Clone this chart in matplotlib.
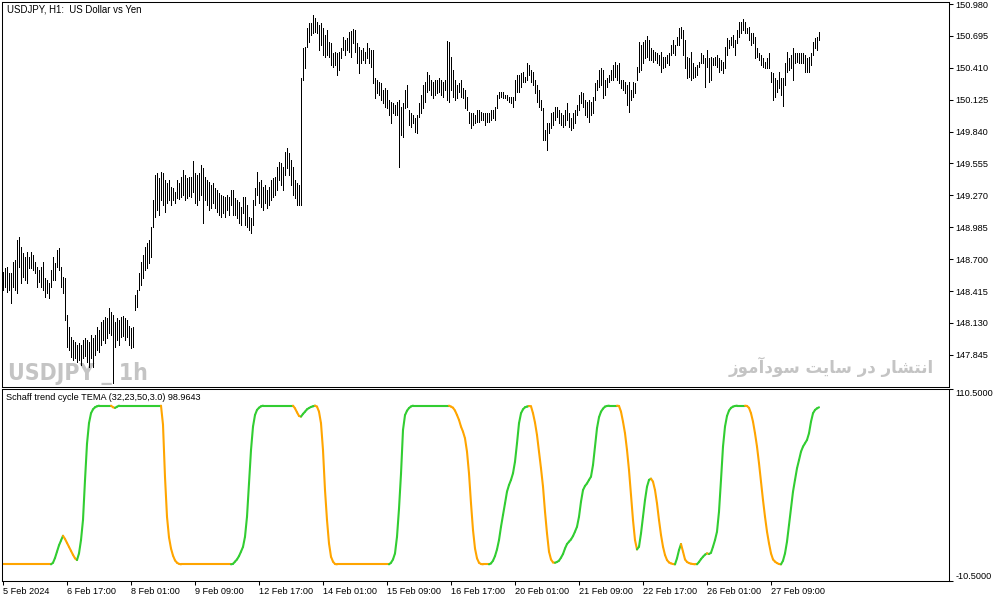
import matplotlib
matplotlib.use('Agg')
import matplotlib.pyplot as plt
from matplotlib.collections import LineCollection
from matplotlib import font_manager as fm
import numpy as np

# ---------------- data ----------------
symbol_title = 'USDJPY, H1:  US Dollar vs Yen'
indicator_name = 'Schaff trend cycle TEMA (32,23,50,3.0)'
watermark_en = 'USDJPY _ 1h'
watermark_fa = 'انتشار در سایت سودآموز'   # logical order
# same Persian text in Arabic presentation forms, visual order (matplotlib has no shaping)
watermark_fa_display = ('\uFEAF\uFEEE\uFEE3\uFE81\uFEA9\uFEEE\uFEB3 '
                        '\uFE96\uFBFE\uFE8E\uFEB3 '
                        '\uFEAD\uFEA9 '
                        '\uFEAD\uFE8E\uFEB8\uFE98\uFEE7\uFE8D')

high = [
    148.586, 148.621, 148.630, 148.577, 148.577, 148.675, 148.693, 148.872, 148.898, 148.809,  # 0
    148.755, 148.720, 148.764, 148.720, 148.764, 148.737, 148.675, 148.630, 148.604, 148.630,  # 10
    148.675, 148.532, 148.514, 148.487, 148.604, 148.720, 148.666, 148.782, 148.800, 148.630,  # 20
    148.541, 148.532, 148.201, 148.094, 148.005, 147.978, 147.960, 147.933, 147.951, 147.933,  # 30
    147.978, 147.996, 147.978, 147.960, 148.023, 147.996, 148.023, 148.094, 148.067, 148.139,  # 40
    148.157, 148.184, 148.175, 148.264, 148.228, 148.201, 148.139, 148.175, 148.157, 148.184,  # 50
    148.192, 148.175, 148.157, 148.103, 148.085, 148.094, 148.380, 148.425, 148.577, 148.675,  # 60
    148.737, 148.809, 148.845, 148.872, 148.988, 149.229, 149.452, 149.470, 149.425, 149.479,  # 70
    149.470, 149.408, 149.381, 149.408, 149.345, 149.336, 149.300, 149.408, 149.381, 149.434,  # 80
    149.497, 149.452, 149.425, 149.434, 149.434, 149.577, 149.470, 149.452, 149.470, 149.542,  # 90
    149.515, 149.434, 149.408, 149.390, 149.363, 149.381, 149.336, 149.318, 149.291, 149.274,  # 100
    149.265, 149.256, 149.274, 149.256, 149.318, 149.318, 149.247, 149.229, 149.211, 149.166,  # 110
    149.256, 149.256, 149.184, 149.077, 149.068, 149.229, 149.336, 149.479, 149.390, 149.408,  # 120
    149.345, 149.363, 149.318, 149.345, 149.408, 149.425, 149.434, 149.524, 149.568, 149.559,  # 130
    149.524, 149.658, 149.693, 149.649, 149.586, 149.524, 149.408, 149.381, 149.363, 150.319,  # 140
    150.587, 150.596, 150.766, 150.810, 150.810, 150.882, 150.855, 150.819, 150.792, 150.810,  # 150
    150.766, 150.703, 150.748, 150.640, 150.632, 150.542, 150.551, 150.542, 150.551, 150.587,  # 160
    150.685, 150.658, 150.676, 150.730, 150.739, 150.757, 150.748, 150.632, 150.596, 150.569,  # 170
    150.587, 150.551, 150.632, 150.587, 150.569, 150.569, 150.319, 150.301, 150.283, 150.274,  # 180
    150.212, 150.230, 150.212, 150.122, 150.104, 150.096, 150.078, 150.104, 150.122, 150.060,  # 190
    150.096, 150.212, 150.256, 150.033, 150.006, 149.988, 149.961, 149.988, 150.096, 150.167,  # 200
    150.256, 150.283, 150.372, 150.346, 150.301, 150.283, 150.301, 150.301, 150.319, 150.301,  # 210
    150.283, 150.301, 150.649, 150.640, 150.506, 150.390, 150.301, 150.256, 150.274, 150.301,  # 220
    150.230, 150.212, 150.149, 150.015, 150.006, 150.006, 149.988, 150.033, 150.033, 150.015,  # 230
    150.006, 150.006, 150.006, 150.006, 150.033, 150.033, 150.060, 150.167, 150.194, 150.194,  # 240
    150.194, 150.167, 150.167, 150.149, 150.149, 150.149, 150.301, 150.346, 150.346, 150.364,  # 250
    150.372, 150.328, 150.453, 150.435, 150.390, 150.372, 150.301, 150.256, 150.212, 150.122,  # 260
    150.051, 149.854, 149.917, 149.917, 150.006, 150.015, 150.060, 150.060, 150.033, 150.006,  # 270
    149.988, 150.033, 150.096, 150.006, 149.961, 150.006, 150.033, 150.078, 150.167, 150.194,  # 280
    150.185, 150.122, 150.104, 150.122, 150.104, 150.149, 150.274, 150.301, 150.390, 150.408,  # 290
    150.390, 150.301, 150.319, 150.346, 150.390, 150.435, 150.462, 150.435, 150.453, 150.301,  # 300
    150.301, 150.283, 150.256, 150.283, 150.212, 150.283, 150.274, 150.417, 150.640, 150.614,  # 310
    150.640, 150.658, 150.694, 150.658, 150.587, 150.569, 150.551, 150.542, 150.524, 150.551,  # 320
    150.506, 150.506, 150.524, 150.542, 150.614, 150.658, 150.614, 150.685, 150.766, 150.774,  # 330
    150.748, 150.658, 150.506, 150.498, 150.551, 150.453, 150.417, 150.435, 150.462, 150.542,  # 340
    150.524, 150.498, 150.569, 150.498, 150.506, 150.498, 150.506, 150.524, 150.498, 150.480,  # 350
    150.462, 150.596, 150.676, 150.658, 150.685, 150.703, 150.658, 150.748, 150.819, 150.819,  # 360
    150.846, 150.819, 150.766, 150.774, 150.721, 150.721, 150.685, 150.587, 150.542, 150.524,  # 370
    150.498, 150.462, 150.498, 150.542, 150.372, 150.364, 150.319, 150.301, 150.372, 150.319,  # 380
    150.319, 150.453, 150.551, 150.498, 150.524, 150.587, 150.542, 150.542, 150.542, 150.542,  # 390
    150.542, 150.524, 150.498, 150.506, 150.542, 150.640, 150.676, 150.685, 150.730,           # 400
]

low = [
    148.425, 148.452, 148.407, 148.425, 148.309, 148.452, 148.425, 148.398, 148.630, 148.487,  # 0
    148.541, 148.514, 148.487, 148.621, 148.621, 148.604, 148.577, 148.452, 148.496, 148.452,  # 10
    148.425, 148.362, 148.398, 148.353, 148.452, 148.514, 148.514, 148.630, 148.604, 148.452,  # 20
    148.398, 148.157, 147.916, 147.889, 147.826, 147.799, 147.817, 147.781, 147.799, 147.755,  # 30
    147.817, 147.835, 147.781, 147.737, 147.817, 147.737, 147.844, 147.889, 147.871, 147.933,  # 40
    147.978, 147.951, 147.996, 148.041, 148.023, 147.594, 147.916, 147.978, 147.933, 148.005,  # 50
    148.014, 147.978, 148.005, 147.933, 147.907, 147.916, 148.246, 148.273, 148.425, 148.470,  # 60
    148.532, 148.604, 148.621, 148.666, 148.720, 148.988, 149.077, 149.140, 149.095, 149.229,  # 70
    149.184, 149.122, 149.202, 149.229, 149.184, 149.229, 149.202, 149.247, 149.238, 149.256,  # 80
    149.274, 149.229, 149.247, 149.265, 149.256, 149.300, 149.202, 149.184, 149.229, 149.274,  # 90
    149.023, 149.229, 149.184, 149.140, 149.157, 149.202, 149.157, 149.122, 149.095, 149.077,  # 100
    149.113, 149.077, 149.140, 149.095, 149.184, 149.095, 149.095, 149.068, 149.023, 149.006,  # 110
    149.113, 149.006, 148.988, 148.961, 148.934, 149.006, 149.184, 149.274, 149.202, 149.166,  # 120
    149.140, 149.202, 149.157, 149.184, 149.229, 149.256, 149.274, 149.318, 149.408, 149.363,  # 130
    149.318, 149.452, 149.515, 149.452, 149.363, 149.274, 149.247, 149.184, 149.184, 149.184,  # 140
    150.301, 150.408, 150.596, 150.640, 150.703, 150.721, 150.730, 150.721, 150.569, 150.614,  # 150
    150.524, 150.506, 150.524, 150.506, 150.435, 150.417, 150.435, 150.346, 150.390, 150.498,  # 160
    150.569, 150.524, 150.569, 150.551, 150.506, 150.632, 150.551, 150.453, 150.364, 150.453,  # 170
    150.480, 150.453, 150.498, 150.453, 150.417, 150.274, 150.140, 150.185, 150.167, 150.122,  # 180
    150.096, 150.060, 150.051, 149.988, 149.917, 150.006, 149.988, 149.988, 149.524, 149.810,  # 190
    149.792, 150.051, 150.060, 149.899, 149.881, 149.917, 149.836, 149.828, 149.970, 150.006,  # 200
    150.051, 150.104, 150.194, 150.212, 150.167, 150.140, 150.167, 150.185, 150.194, 150.167,  # 210
    150.149, 150.212, 150.122, 150.104, 150.212, 150.149, 150.122, 150.140, 150.194, 150.149,  # 220
    150.140, 150.051, 150.033, 149.917, 149.872, 149.899, 149.917, 149.926, 149.926, 149.944,  # 230
    149.944, 149.899, 149.926, 149.926, 149.944, 149.961, 149.944, 150.051, 150.140, 150.149,  # 240
    150.140, 150.140, 150.122, 150.104, 150.096, 150.060, 150.122, 150.194, 150.194, 150.238,  # 250
    150.283, 150.283, 150.301, 150.346, 150.283, 150.256, 150.185, 150.104, 150.060, 150.033,  # 260
    149.765, 149.765, 149.676, 149.828, 149.872, 149.899, 149.944, 149.970, 149.917, 149.899,  # 270
    149.881, 149.899, 149.944, 149.881, 149.854, 149.872, 149.917, 149.988, 150.033, 150.096,  # 280
    150.060, 149.988, 149.970, 149.926, 149.988, 150.006, 150.122, 150.212, 150.238, 150.256,  # 290
    150.140, 150.167, 150.238, 150.283, 150.301, 150.301, 150.328, 150.301, 150.274, 150.230,  # 300
    150.212, 150.185, 150.078, 150.015, 150.122, 150.149, 150.185, 150.301, 150.372, 150.390,  # 310
    150.453, 150.498, 150.506, 150.480, 150.480, 150.462, 150.480, 150.453, 150.435, 150.372,  # 320
    150.408, 150.417, 150.453, 150.435, 150.524, 150.542, 150.524, 150.614, 150.614, 150.676,  # 330
    150.524, 150.408, 150.319, 150.328, 150.301, 150.319, 150.328, 150.346, 150.417, 150.453,  # 340
    150.453, 150.238, 150.417, 150.283, 150.301, 150.435, 150.435, 150.417, 150.372, 150.390,  # 350
    150.364, 150.408, 150.524, 150.587, 150.614, 150.596, 150.524, 150.632, 150.685, 150.721,  # 360
    150.748, 150.721, 150.721, 150.658, 150.614, 150.632, 150.498, 150.506, 150.480, 150.435,  # 370
    150.417, 150.408, 150.408, 150.408, 150.283, 150.122, 150.149, 150.194, 150.230, 150.167,  # 380
    150.069, 150.256, 150.372, 150.390, 150.408, 150.301, 150.453, 150.462, 150.453, 150.453,  # 390
    150.453, 150.372, 150.372, 150.372, 150.435, 150.524, 150.587, 150.569, 150.658,           # 400
]

stc = [
    0, 0, 0, 0, 0, 0, 0, 0, 0, 0,                                   # 0
    0, 0, 0, 0, 0, 0, 0, 0, 0, 0,                                   # 10
    0, 0, 0, 0, 0, 1, 4, 8, 12, 15,                                 # 20
    18, 16, 13.5, 11, 8.5, 6, 3.8, 2.7, 6.9, 15.3,                  # 30
    28, 53, 76, 89, 95.2, 97.7, 99, 99.6, 100, 100,                 # 40
    100, 100, 100, 100, 100, 99.0, 98.6, 99.3, 100, 100,            # 50
    100, 100, 100, 100, 100, 100, 100, 100, 100, 100,               # 60
    100, 100, 100, 100, 100, 100, 100, 100, 100, 100,               # 70
    88, 55, 30, 17, 10, 5.5, 2.5, 1, 0.3, 0,                        # 80
    0, 0, 0, 0, 0, 0, 0, 0, 0, 0,                                   # 90
    0, 0, 0, 0, 0, 0, 0, 0, 0, 0,                                   # 100
    0, 0, 0, 0, 0, 0.3, 1.7, 3.1, 5.2, 8,                           # 110
    11, 17.4, 30, 51, 72, 86.8, 94.1, 97.3, 98.7, 99.6,             # 120
    100, 100, 100, 100, 100, 100, 100, 100, 100, 100,               # 130
    100, 100, 100, 100, 100, 100, 98.3, 95.8, 93.5, 93.1,           # 140
    94.8, 96.2, 97.7, 98.5, 99.2, 99.6, 100, 99.4, 96.2, 88.9,      # 150
    72, 46.8, 27.9, 13.2, 4.8, 1.7, 0.2, 0, 0, 0,                   # 160
    0, 0, 0, 0, 0, 0, 0, 0, 0, 0,                                   # 170
    0, 0, 0, 0, 0, 0, 0, 0, 0, 0,                                   # 180
    0, 0, 0, 0, 1, 3.1, 6.9, 17.4, 35, 57,                          # 190
    84.7, 94, 96.8, 98.5, 99.5, 100, 100, 100, 100, 100,            # 200
    100, 100, 100, 100, 100, 100, 100, 100, 100, 100,               # 210
    100, 100, 100, 100, 99.4, 98.7, 96.9, 94.1, 91, 86.8,           # 220
    83.6, 79.4, 71, 57.3, 38.4, 21.6, 10, 3.8, 1, 0.2,              # 230
    0, 0, 0, 0, 0.6, 2.3, 5.2, 9.4, 15.3, 23.7,                     # 240
    31.1, 38.4, 45.8, 50, 53.2, 57.4, 64.7, 76.3, 88.9, 95.2,       # 250
    97.7, 99, 99.4, 99.8, 99.6, 95.2, 89.3, 81.5, 71, 60.5,         # 260
    49, 33.2, 19.5, 8, 3.1, 1.2, 1.0, 1.5, 2.3, 4.2,                # 270
    6.5, 10, 12.8, 14.3, 15.7, 17.8, 20.6, 23.7, 30, 39.5,          # 280
    46.8, 49.4, 51, 53.2, 55.3, 62.6, 74.2, 85.8, 92.7, 96.2,       # 290
    98.1, 99.4, 99.8, 100, 100, 100, 100, 100, 99.8, 96.2,          # 300
    89.9, 82.6, 72.1, 59.4, 43.7, 27.9, 15.3, 9.4, 11.1, 19.5,      # 310
    30, 40.5, 48.9, 53.2, 54, 52.1, 46.8, 38.4, 27.9, 18.5,         # 320
    11.1, 5.9, 2.7, 1.2, 0.6, 0.2, 0, 3.8, 9, 12.8,                 # 330
    8, 3.1, 1.5, 0.8, 0.4, 0.2, 0, 0, 1.5, 3.3,                     # 340
    4.8, 6.1, 6.9, 6.5, 7.3, 11.1, 15.3, 20.6, 33.2, 53.2,          # 350
    74.2, 86.8, 93.5, 96.9, 98.6, 99.4, 99.8, 100, 100, 100,        # 360
    100, 100, 99.8, 98.6, 95.2, 89.9, 82.6, 74.2, 63.7, 52.1,       # 370
    40.5, 30, 20.6, 13.2, 6.9, 3.1, 1.7, 0.8, 0.2, 0,               # 380
    2.3, 6.9, 14.3, 24.8, 35.3, 45.8, 53.2, 60.5, 65.7, 71,         # 390
    74.2, 76.3, 78.4, 82.6, 89.9, 95.2, 97.3, 98.3, 98.9643,        # 400
]

date_tick_bars = [0, 32, 64, 96, 128, 160, 192, 224, 256, 288, 320, 352, 384]
date_labels = ['5 Feb 2024', '6 Feb 17:00', '8 Feb 01:00', '9 Feb 09:00',
               '12 Feb 17:00', '14 Feb 01:00', '15 Feb 09:00', '16 Feb 17:00',
               '20 Feb 01:00', '21 Feb 09:00', '22 Feb 17:00', '26 Feb 01:00',
               '27 Feb 09:00']
price_ticks = [147.845, 148.130, 148.415, 148.700, 148.985, 149.270,
               149.555, 149.840, 150.125, 150.410, 150.695, 150.980]
stc_ticks = [-10.5, 110.5]

# ---------------- style ----------------
plt.rcParams['font.family'] = ['Liberation Sans', 'DejaVu Sans']
GREEN = '#32CD32'
ORANGE = '#FFA500'
WM_GRAY = '#c4c4c4'
FS = 6.6
W, H = 1003, 603


def fx(px):
    return px / W


def fy(py):
    return 1 - py / H


# pick a condensed bold face for the watermark if one is installed
cond = None
for f in fm.fontManager.ttflist:
    st = str(f.stretch)
    if st in ('condensed', 'extra-condensed', 'ultra-condensed', 'semi-condensed') or 'Narrow' in f.name or 'Condensed' in f.name:
        try:
            wv = int(f.weight)
        except Exception:
            wv = 700 if 'bold' in str(f.weight).lower() else 400
        if wv >= 600:
            cond = f
            break
if cond is not None:
    wm_props = fm.FontProperties(fname=cond.fname, size=16.5)
else:
    wm_props = fm.FontProperties(family='DejaVu Sans', weight='bold', size=14.5)

fig = plt.figure(figsize=(W / 100, H / 100), dpi=100)
fig.patch.set_facecolor('white')

ax1 = fig.add_axes([fx(2), fy(387), (949 - 2) / W, (387 - 2) / H])
ax2 = fig.add_axes([fx(2), fy(581), (949 - 2) / W, (581 - 389) / H])

n = len(high)
xb = np.arange(n)

# price bars (high-low)
ax1.vlines(xb, low, high, colors='black', linewidth=0.72, antialiased=False,
           snap=True, zorder=3)
ax1.set_xlim(-0.5, 473)
ax1.set_ylim(147.558, 150.998)
ax1.set_xticks([])
ax1.yaxis.tick_right()
ax1.set_yticks(price_ticks)
ax1.set_yticklabels([f'{p:.3f}' for p in price_ticks])
ax1.tick_params(axis='y', direction='out', length=3, width=0.75, pad=1.5,
                labelsize=FS, colors='black')

# watermarks (behind bars)
ax1.text(fx(8), fy(380), watermark_en, transform=fig.transFigure,
         fontproperties=wm_props, color=WM_GRAY,
         ha='left', va='baseline', zorder=1)
ax1.text(fx(934), fy(373), watermark_fa_display, transform=fig.transFigure,
         fontsize=12, fontweight='bold', color=WM_GRAY,
         family=['DejaVu Sans'], ha='right', va='baseline', zorder=1)

# STC line coloured by direction
v = np.asarray(stc, dtype=float)
xs = np.arange(len(v))
cols = []
prev = ORANGE
for i in range(1, len(v)):
    if v[i] > v[i - 1]:
        c = GREEN
    elif v[i] < v[i - 1]:
        c = ORANGE
    else:
        c = prev
    cols.append(c)
    prev = c
segs = [[(xs[i - 1], v[i - 1]), (xs[i], v[i])] for i in range(1, len(v))]
lc = LineCollection(segs, colors=cols, linewidths=1.5, capstyle='round')
ax2.add_collection(lc)
ax2.set_xlim(-0.5, 473)
ax2.set_ylim(-10.5, 110.5)
ax2.yaxis.tick_right()
ax2.set_yticks(stc_ticks)
ylabs = ax2.set_yticklabels([f'{t:.4f}' for t in stc_ticks])
ylabs[0].set_va('bottom')
ylabs[1].set_va('top')
ax2.tick_params(axis='y', direction='out', length=3, width=0.75, pad=1.5,
                labelsize=FS, colors='black')
ax2.set_xticks(date_tick_bars)
xl = ax2.set_xticklabels(date_labels)
for t in xl:
    t.set_ha('left')
ax2.tick_params(axis='x', direction='out', length=3, width=0.75, pad=1.5,
                labelsize=FS, colors='black')

for ax in (ax1, ax2):
    for s in ax.spines.values():
        s.set_linewidth(0.75)
        s.set_color('black')

# titles
fig.text(fx(7), fy(10), symbol_title, fontsize=6.9, ha='left', va='center', color='black')
fig.text(fx(6), fy(398), f'{indicator_name} {stc[-1]:.4f}', fontsize=FS,
         ha='left', va='center', color='black')

fig.savefig('out.png', dpi=100, facecolor='white')
